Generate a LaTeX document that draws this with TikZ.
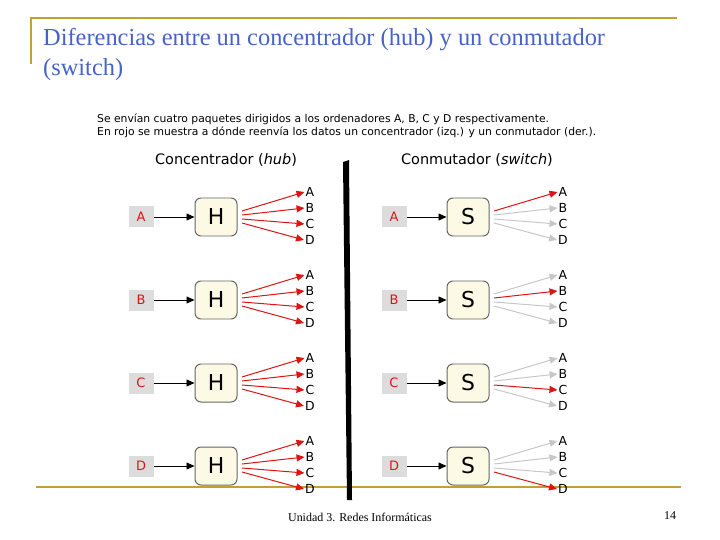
\documentclass[tikz,border=0pt]{standalone}
\usepackage{fontspec}
\setmainfont{Liberation Serif}
\newfontfamily\dv{DejaVu Sans}
\usetikzlibrary{arrows.meta}
\definecolor{gold}{RGB}{196,160,50}
\definecolor{ttl}{RGB}{70,100,200}
\definecolor{hred}{RGB}{220,20,20}
\definecolor{boxfill}{RGB}{252,250,228}
\definecolor{inbox}{RGB}{220,220,220}
\tikzset{
 dev/.style={draw=black!60,line width=1pt,rounded corners=6pt,fill=boxfill,minimum width=42bp,minimum height=38bp,font=\dv\fontsize{22}{22}\selectfont},
 inb/.style={fill=inbox,minimum width=25bp,minimum height=21bp,font=\dv\fontsize{13}{13}\selectfont,text=hred},
 lbl/.style={font=\dv\fontsize{12.5}{12.5}\selectfont,inner sep=0pt},
 red/.style={draw=hred,line width=1pt,-{Triangle[length=8bp,width=7bp]}},
 gry/.style={draw=black!22,line width=1pt,-{Triangle[length=8bp,width=7bp]}},
 blk/.style={draw=black,line width=0.8pt,-{Triangle[length=8bp,width=7bp]}}
}
\begin{document}
\begin{tikzpicture}[x=1bp,y=-1bp]
\useasboundingbox (0,0) rectangle (720,540);
\draw[gold,line width=3pt] (30,18) -- (677,18);
\draw[gold,line width=3pt] (31,17) -- (31,64);
\draw[gold,line width=2pt] (36,487) -- (681,487);
\node[anchor=north west,text=ttl,font=\fontsize{24.5}{30}\selectfont,align=left,inner sep=0pt] (title) at (43,28) {Diferencias entre un concentrador (hub) y un conmutador\\(switch)};
\node[anchor=west,font=\dv\fontsize{10.8}{13}\selectfont,align=left,inner sep=0pt] (intro) at (97,126) {Se envían cuatro paquetes dirigidos a los ordenadores A, B, C y D respectivamente.\\En rojo se muestra a dónde reenvía los datos un concentrador (izq.) y un conmutador (der.).};
\node[font=\dv\fontsize{14.5}{16}\selectfont] (h1) at (226,160) {Concentrador (\textit{hub})};
\node[font=\dv\fontsize{14.5}{16}\selectfont] (h2) at (477,160) {Conmutador (\textit{switch})};
\fill (343,162) -- (349,160) -- (352,500) -- (347,500) -- cycle;
\foreach \y/\L/\k in {217/A/1,300/B/2,383/C/3,466/D/4}{
 \node[inb] (ia\k) at (141,\y) {\L};
 \node[dev] (H\k) at (216,\y) {H};
 \draw[blk] (ia\k) -- (H\k);
 \node[inb] (ib\k) at (394,\y) {\L};
 \node[dev] (S\k) at (468,\y) {S};
 \draw[blk] (ib\k) -- (S\k);
 \foreach \o/\d/\n in {-25/-6/1,-9/-2/2,7/2/3,23/6/4}{
  \coordinate (hs\k\n) at (242,\y+\d);
  \coordinate (ss\k\n) at (494,\y+\d);
 }
 \foreach \o/\M/\n in {-25/A/1,-9/B/2,7/C/3,23/D/4}{
  \node[lbl] (hl\k\n) at (310,\y+\o) {\M};
  \node[lbl] (sl\k\n) at (563,\y+\o) {\M};
  \draw[red] (hs\k\n) -- ([xshift=-1bp]hl\k\n.west);
  \ifnum\n=\k
   \draw[red] (ss\k\n) -- ([xshift=-1bp]sl\k\n.west);
  \else
   \draw[gry] (ss\k\n) -- ([xshift=-1bp]sl\k\n.west);
  \fi
 }
}
\node[font=\fontsize{12}{14}\selectfont] (foot) at (360,517) {Unidad 3. Redes Informáticas};
\node[font=\fontsize{12}{14}\selectfont] (pg) at (670,516) {14};
\end{tikzpicture}
\end{document}
